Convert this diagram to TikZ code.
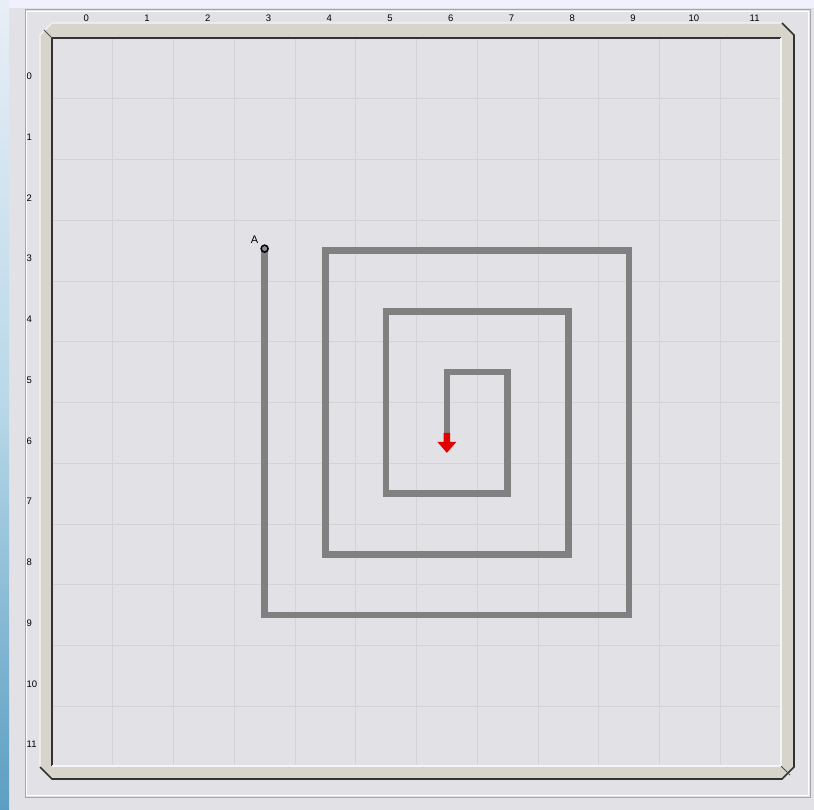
\documentclass[tikz,border=0pt]{standalone}
\usepackage{fontspec}
\setmainfont{Liberation Sans}
\begin{document}
\begin{tikzpicture}[x=1pt,y=-1pt,
  lbl/.style={font=\fontsize{9.5}{10}\selectfont, text=black, inner sep=0pt},
  gridline/.style={draw=black!17, line width=0.8pt},
  spiral/.style={draw=black!50, line width=6.5pt, line join=miter},
  darkedge/.style={draw=black!80, line width=1.6pt},
  lightedge/.style={draw=white!96!black, line width=1.4pt}]
\definecolor{panelbg}{HTML}{E2E2E6}
\definecolor{framec}{HTML}{D7D4CC}
\definecolor{redarrow}{HTML}{E00000}
\definecolor{stripT}{HTML}{E8EEF6}
\definecolor{stripM}{HTML}{B8D8E8}
\definecolor{stripB}{HTML}{5C9EC2}
\useasboundingbox (0,0) rectangle (814,810);
% page background
\fill[panelbg] (0,0) rectangle (814,810);
\fill[white!94!blue] (0,0) rectangle (814,8);
\shade[top color=stripT, bottom color=stripB, middle color=stripM] (0,0) rectangle (9,810);
% panel border
\draw[black!35, line width=1pt] (25,10) rectangle (810,797);
\draw[white, line width=0.8pt] (26.5,11.5) rectangle (808.5,795.5);
% frame
\fill[framec] (52,23) -- (782,23) -- (794,35) -- (794,767) -- (782,779) -- (52,779) -- (40,767) -- (40,35) -- cycle;
\fill[panelbg] (52,38) rectangle (781,766);
% frame edges
\draw[lightedge] (40,767) -- (40,35) -- (52,23) -- (782,23);
\draw[darkedge] (782,23) -- (794,35) -- (794,767) -- (782,779) -- (52,779) -- (40,767);
\draw[darkedge] (52,766) -- (52,38) -- (781,38);
\draw[lightedge] (781,38) -- (781,766) -- (52,766);
\draw[black!70, line width=1pt] (44,30) -- (52,38);
\draw[black!70, line width=1pt] (781,766) -- (790,775);
% grid
\foreach \k in {1,...,11}{
  \draw[gridline] ({52+60.75*\k},38.8) -- ({52+60.75*\k},765.2);
  \draw[gridline] (52.8,{38+60.75*\k}) -- (780.2,{38+60.75*\k});
}
% axis labels
\foreach \k in {0,...,11}{
  \node[lbl] (col\k) at ({52+60.75*(\k+0.5)+4},18.5) {\k};
  \node[lbl, anchor=west] (row\k) at (26.5,{38+60.75*(\k+0.5)+8}) {\k};
}
% spiral points
\newcommand\gx[1]{52+60.75*(#1+0.5)}
\newcommand\gy[1]{38+60.75*(#1+0.5)}
\coordinate (A) at ({\gx{3}},{\gy{3}-2});
\coordinate (p1) at ({\gx{3}},{\gy{9}});
\coordinate (p2) at ({\gx{9}},{\gy{9}});
\coordinate (p3) at ({\gx{9}},{\gy{3}});
\coordinate (p4) at ({\gx{4}},{\gy{3}});
\coordinate (p5) at ({\gx{4}},{\gy{8}});
\coordinate (p6) at ({\gx{8}},{\gy{8}});
\coordinate (p7) at ({\gx{8}},{\gy{4}});
\coordinate (p8) at ({\gx{5}},{\gy{4}});
\coordinate (p9) at ({\gx{5}},{\gy{7}});
\coordinate (p10) at ({\gx{7}},{\gy{7}});
\coordinate (p11) at ({\gx{7}},{\gy{5}});
\coordinate (p12) at ({\gx{6}},{\gy{5}});
\coordinate (p13) at ({\gx{6}},{\gy{6}});
\draw[spiral] (A) -- (p1) -- (p2) -- (p3) -- (p4) -- (p5) -- (p6) -- (p7) -- (p8) -- (p9) -- (p10) -- (p11) -- (p12) -- (p13);
% red arrow
\fill[redarrow] ([xshift=-3.3pt]p13) -- ([xshift=3.3pt]p13) -- ([xshift=3.3pt,yshift=-9pt]p13) -- ([xshift=9.5pt,yshift=-9pt]p13) -- ([yshift=-20pt]p13) -- ([xshift=-9.5pt,yshift=-9pt]p13) -- ([xshift=-3.3pt,yshift=-9pt]p13) -- cycle;
% point A
\filldraw[fill=black!45, draw=black, line width=1.5pt] (A) circle (3.5);
\node[lbl, font=\fontsize{11}{12}\selectfont] (Alabel) at ([xshift=-10pt,yshift=9pt]A) {A};
\end{tikzpicture}
\end{document}
